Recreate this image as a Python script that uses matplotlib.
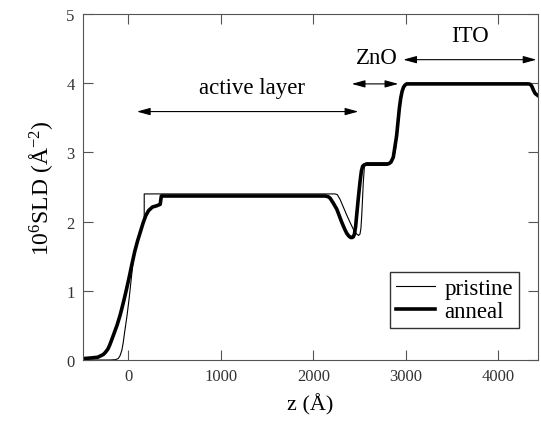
# SLD depth profile: pristine vs annealed film
import numpy as np
import matplotlib
matplotlib.use('Agg')
import matplotlib.pyplot as plt

plt.rcParams['font.family'] = ['Liberation Serif', 'DejaVu Serif']
plt.rcParams['mathtext.fontset'] = 'custom'
plt.rcParams['mathtext.rm'] = 'Liberation Serif'
plt.rcParams['mathtext.default'] = 'regular'

#-------------------------------------------------------------------------------
# values
z_pristine = [-490, -200, -140, -110, -90, -70, -55, -40, -14, 10, 30, 50, 80, 130, 150, 172,
              172, 2235, 2260, 2290, 2325, 2360, 2397, 2440, 2470, 2490, 2505, 2515, 2524,
              2541, 2552, 2560, 2575, 2830, 2850, 2870, 2890, 2910, 2925, 2940, 2955, 2970,
              2985, 3010, 4340, 4355, 4370, 4400, 4430]
sld_pristine = [0.0, 0.0, 0.005, 0.02, 0.06, 0.14, 0.25, 0.4, 0.64, 0.9, 1.15, 1.4, 1.62, 1.86, 1.95, 2.05,
                2.40, 2.40, 2.39, 2.32, 2.21, 2.10, 1.99, 1.87, 1.82, 1.80, 1.82, 1.90, 2.09,
                2.57, 2.78, 2.84, 2.85, 2.85, 2.87, 2.93, 3.05, 3.30, 3.50, 3.70, 3.84, 3.92,
                3.97, 3.99, 3.99, 3.97, 3.93, 3.86, 3.82]

z_anneal = [-490, -400, -330, -300, -270, -248, -220, -200, -180, -158, -120, -86, -50, -20,
            10, 40, 70, 100, 130, 160, 190, 220, 260, 310, 345, 357, 370, 1000, 2100, 2130,
            2160, 2181, 2215, 2254, 2308, 2340, 2362, 2385, 2405, 2420, 2433, 2445, 2458,
            2469, 2487, 2505, 2520, 2534, 2550, 2577, 2800, 2820, 2840, 2865, 2901, 2930,
            2945, 2960, 2975, 2990, 3009, 4330, 4350, 4365, 4380, 4400, 4430]
sld_anneal = [0.02, 0.03, 0.04, 0.06, 0.08, 0.11, 0.16, 0.22, 0.29, 0.37, 0.51, 0.66, 0.85, 1.02,
              1.20, 1.39, 1.57, 1.72, 1.85, 1.98, 2.09, 2.16, 2.21, 2.23, 2.25, 2.37, 2.37,
              2.37, 2.37, 2.37, 2.36, 2.34, 2.27, 2.18, 1.99, 1.89, 1.83, 1.79, 1.77, 1.77,
              1.78, 1.82, 1.93, 2.09, 2.34, 2.57, 2.73, 2.80, 2.82, 2.83, 2.83, 2.84, 2.86,
              2.93, 3.24, 3.63, 3.78, 3.88, 3.94, 3.97, 3.99, 3.99, 3.98, 3.95, 3.90, 3.85,
              3.82]

# layer annotations: label, arrow start, arrow end, arrow height, text position
layer_names = ['active layer', 'ZnO', 'ITO']
arrow_z0 = [93, 2416, 2973]
arrow_z1 = [2487, 2919, 4413]
arrow_y = [3.59, 3.99, 4.34]
text_z = [1336, 2686, 3693]
text_y = [3.94, 4.37, 4.69]

#-------------------------------------------------------------------------------
fig = plt.figure(figsize = (5.41, 4.31), dpi = 100)
ax = fig.add_axes([0.1534, 0.1624, 0.8411, 0.8028])

ax.plot(z_pristine, sld_pristine, color = 'black', lw = 0.8, label = 'pristine')
ax.plot(z_anneal, sld_anneal, color = 'black', lw = 2.6, label = 'anneal',
        solid_joinstyle = 'round')

for name, a0, a1, ay, tz, ty in zip(layer_names, arrow_z0, arrow_z1, arrow_y, text_z, text_y):
    ax.annotate('', xy = (a1, ay), xytext = (a0, ay),
                arrowprops = dict(arrowstyle = '<|-|>,head_length=0.8,head_width=0.22',
                                  color = 'black', lw = 0.8, shrinkA = 0, shrinkB = 0))
    ax.text(tz, ty, name, ha = 'center', va = 'center', fontsize = 16.5)

ax.set_xlim(-490, 4430)
ax.set_ylim(0, 5)
ax.set_xticks([0, 1000, 2000, 3000, 4000])
ax.set_yticks([0, 1, 2, 3, 4, 5])

for sp in ax.spines.values():
    sp.set_color('#555555')
ax.tick_params(direction = 'in', length = 7, width = 0.8, color = '#555555',
               top = True, right = True, labelsize = 12, labelcolor = '#333333', pad = 6)

ax.set_xlabel('z (Å)', fontsize = 16, labelpad = 6)
ax.set_ylabel('10$^{6}$SLD (Å$^{-2}$)', fontsize = 17, labelpad = 8)

leg = ax.legend(loc = 'lower right', bbox_to_anchor = (0.958, 0.092), fontsize = 16.5,
                frameon = True, fancybox = False, handlelength = 1.7, borderaxespad = 0,
                borderpad = 0.25, labelspacing = 0.1, handletextpad = 0.42)
leg.get_frame().set_edgecolor('black')
leg.get_frame().set_linewidth(1.0)

fig.savefig('out.png', dpi = 100)
